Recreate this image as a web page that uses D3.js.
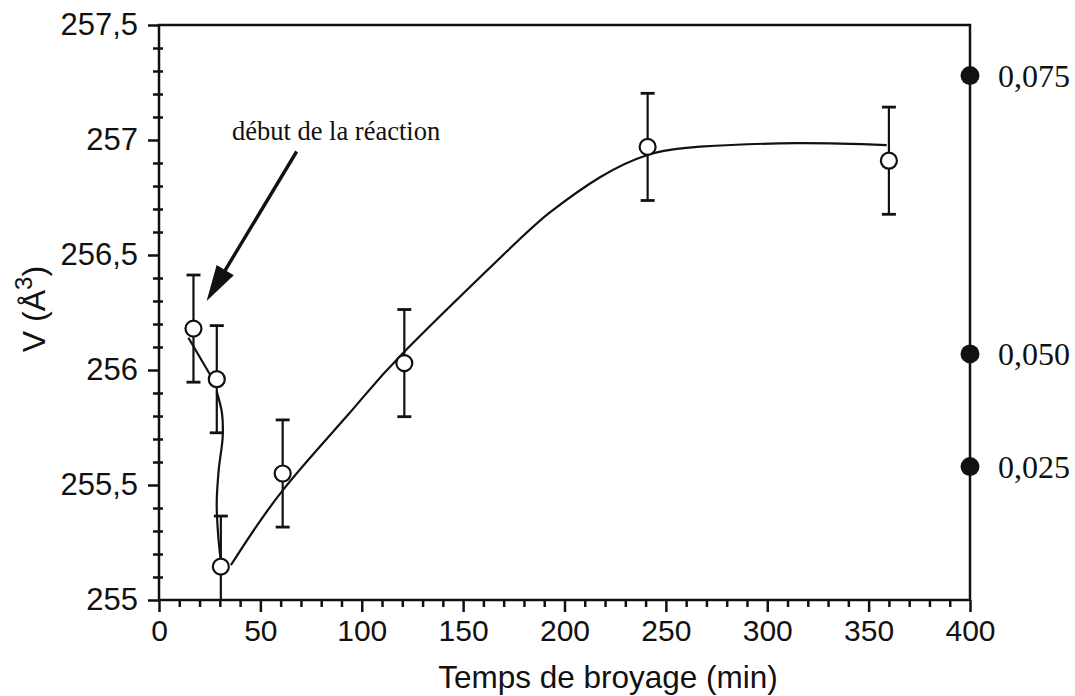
<!DOCTYPE html>
<html><head><meta charset="utf-8">
<script src="https://cdn.jsdelivr.net/npm/d3@7"></script>
<style>body{margin:0;background:#fff}svg{display:block}</style>
</head><body><svg id="c" width="1075" height="696"></svg>
<script>
// ---- data ----
const times   = [17, 28.5, 30.5, 61, 121, 241, 360];          // min
const volumes = [256.18, 255.96, 255.145, 255.55, 256.03, 256.97, 256.91]; // Å3
const errors  = [0.233, 0.233, 0.22, 0.233, 0.233, 0.233, 0.233];

// hand-drawn guide line, three pieces
const fitA_t = [14.5, 25.5];
const fitA_v = [256.14, 255.975];
const fitB_t = [28.46, 31.07, 31.42, 29.44, 28.46, 29.24, 30.43];
const fitB_v = [255.906, 255.812, 255.710, 255.565, 255.420, 255.275, 255.174];
const fitC_t = [35.5, 61.3, 94.2, 120.5, 171.5, 192.8, 217.5, 241, 266.8, 314.5, 358.9];
const fitC_v = [255.152, 255.48, 255.815, 256.075, 256.515, 256.685, 256.838, 256.935, 256.971, 256.986, 256.978];

const xTicks = [0, 50, 100, 150, 200, 250, 300, 350, 400];
const xTickLabels = ["0", "50", "100", "150", "200", "250", "300", "350", "400"];
const yTicks = [255, 255.5, 256, 256.5, 257, 257.5];
const yTickLabels = ["255", "255,5", "256", "256,5", "257", "257,5"];

const refLabels  = ["0,075", "0,050", "0,025"];
const refVolumes = [257.28, 256.07, 255.58];

const annotText = "début de la réaction";
const annotTextPos = [36, 257.0];
const arrowTail = [67.9, 256.95];
const arrowTip  = [23.5, 256.30];

const xTitle = "Temps de broyage (min)";

// ---- drawing ----
const svg = d3.select("#c");
const x = d3.scaleLinear().domain([0, 400]).range([159, 970]);
const y = d3.scaleLinear().domain([255, 257.5]).range([600, 25]);
const sans = "'Liberation Sans', Arial, Helvetica, sans-serif";
const serif = "'Liberation Serif', 'Times New Roman', serif";
const ink = "#111";

svg.append("defs").append("clipPath").attr("id", "plot")
  .append("rect").attr("x", x(0)).attr("y", y(257.5)).attr("width", x(400) - x(0)).attr("height", y(255) - y(257.5));

// minor ticks
const yMinor = d3.range(255, 257.5001, 0.1).map(v => +v.toFixed(2)).filter(v => !yTicks.some(t => Math.abs(t - v) < 1e-6));
const xMinor = d3.range(0, 400.001, 10).filter(v => v % 50 !== 0);

function styleAxis(g) {
  g.select(".domain").remove();
  g.selectAll("line").attr("stroke", ink).attr("stroke-width", 2.5);
}
svg.append("g").attr("transform", `translate(${x(0)},0)`)
  .call(d3.axisLeft(y).tickValues(yMinor).tickSize(6).tickFormat(""))
  .call(styleAxis);
svg.append("g").attr("transform", `translate(${x(0)},0)`)
  .call(d3.axisLeft(y).tickValues(yMinor).tickSize(-4).tickFormat(""))
  .call(styleAxis);
const yAx = svg.append("g").attr("transform", `translate(${x(0)},0)`)
  .call(d3.axisLeft(y).tickValues(yTicks).tickSize(11).tickPadding(10)
    .tickFormat((d, i) => yTickLabels[i]))
  .call(styleAxis);
yAx.selectAll("text").attr("font-family", sans).attr("font-size", 31).attr("fill", ink);

svg.append("g").attr("transform", `translate(0,${y(255)})`)
  .call(d3.axisBottom(x).tickValues(xMinor).tickSize(7).tickFormat(""))
  .call(styleAxis);
const xAx = svg.append("g").attr("transform", `translate(0,${y(255)})`)
  .call(d3.axisBottom(x).tickValues(xTicks).tickSize(12).tickPadding(8)
    .tickFormat((d, i) => xTickLabels[i]))
  .call(styleAxis);
xAx.selectAll("text").attr("font-family", sans).attr("font-size", 30).attr("fill", ink);

// frame
const frame = svg.append("g").attr("stroke", ink).attr("stroke-width", 2.5).attr("fill", "none");
frame.append("path").attr("d",
  `M${x(0)},${y(255)}V${y(257.5)}H${x(400)}V${y(255)}H${x(0)}`);

// error bars
const eb = svg.append("g").attr("clip-path", "url(#plot)").attr("stroke", ink).attr("stroke-width", 2.2);
times.forEach((t, i) => {
  const cx = x(t), top = y(volumes[i] + errors[i]), bot = y(volumes[i] - errors[i]);
  eb.append("line").attr("x1", cx).attr("x2", cx).attr("y1", top).attr("y2", bot);
  eb.append("line").attr("x1", cx - 7).attr("x2", cx + 7).attr("y1", top).attr("y2", top).attr("stroke-width", 2.8);
  eb.append("line").attr("x1", cx - 7).attr("x2", cx + 7).attr("y1", bot).attr("y2", bot).attr("stroke-width", 2.8);
});

// guide line
const lineCR = d3.line().x(d => x(d[0])).y(d => y(d[1])).curve(d3.curveCatmullRom.alpha(0.5));
const lineN = d3.line().x(d => x(d[0])).y(d => y(d[1])).curve(d3.curveNatural);
const lg = svg.append("g").attr("fill", "none").attr("stroke", ink).attr("stroke-width", 2.2);
lg.append("path").attr("d", lineCR(fitA_t.map((t, i) => [t, fitA_v[i]])));
lg.append("path").attr("d", lineCR(fitB_t.map((t, i) => [t, fitB_v[i]])));
lg.append("path").attr("d", lineN(fitC_t.map((t, i) => [t, fitC_v[i]])));

// open circles
svg.append("g").selectAll("circle").data(times).join("circle")
  .attr("cx", d => x(d)).attr("cy", (d, i) => y(volumes[i])).attr("r", 8)
  .attr("fill", "#fff").attr("stroke", ink).attr("stroke-width", 2.2);

// reference dots on the right axis
const rg = svg.append("g");
refVolumes.forEach((v, i) => {
  rg.append("circle").attr("cx", x(400)).attr("cy", y(v)).attr("r", 9.5).attr("fill", ink);
  rg.append("text").attr("x", x(400) + 28).attr("y", y(v) + 11)
    .attr("font-family", serif).attr("font-size", 32).attr("fill", ink).text(refLabels[i]);
});

// annotation
svg.append("text").attr("x", x(annotTextPos[0])).attr("y", y(annotTextPos[1]))
  .attr("font-family", serif).attr("font-size", 26.5).attr("fill", ink).text(annotText);
{
  const x1 = x(arrowTail[0]), y1 = y(arrowTail[1]), x2 = x(arrowTip[0]), y2 = y(arrowTip[1]);
  const ang = Math.atan2(y2 - y1, x2 - x1), L = 36, W = 10;
  const bx = x2 - L * Math.cos(ang), by = y2 - L * Math.sin(ang);
  svg.append("line").attr("x1", x1).attr("y1", y1).attr("x2", bx + 4 * Math.cos(ang)).attr("y2", by + 4 * Math.sin(ang))
    .attr("stroke", ink).attr("stroke-width", 3.4);
  const px = -Math.sin(ang), py = Math.cos(ang);
  svg.append("path").attr("fill", ink)
    .attr("d", `M${x2},${y2}L${bx + W * px},${by + W * py}L${bx - W * px},${by - W * py}Z`);
}

// axis titles
svg.append("text").attr("x", 608).attr("y", 688).attr("text-anchor", "middle")
  .attr("font-family", sans).attr("font-size", 31.5).attr("fill", ink).text(xTitle);
const yt = svg.append("text").attr("transform", "translate(45,309) rotate(-90)").attr("text-anchor", "middle")
  .attr("font-family", sans).attr("font-size", 32).attr("fill", ink);
yt.append("tspan").text("V (Å");
yt.append("tspan").attr("font-size", 24).attr("dy", -13).text("3");
yt.append("tspan").attr("dy", 13).text(")");
</script>
</body></html>
